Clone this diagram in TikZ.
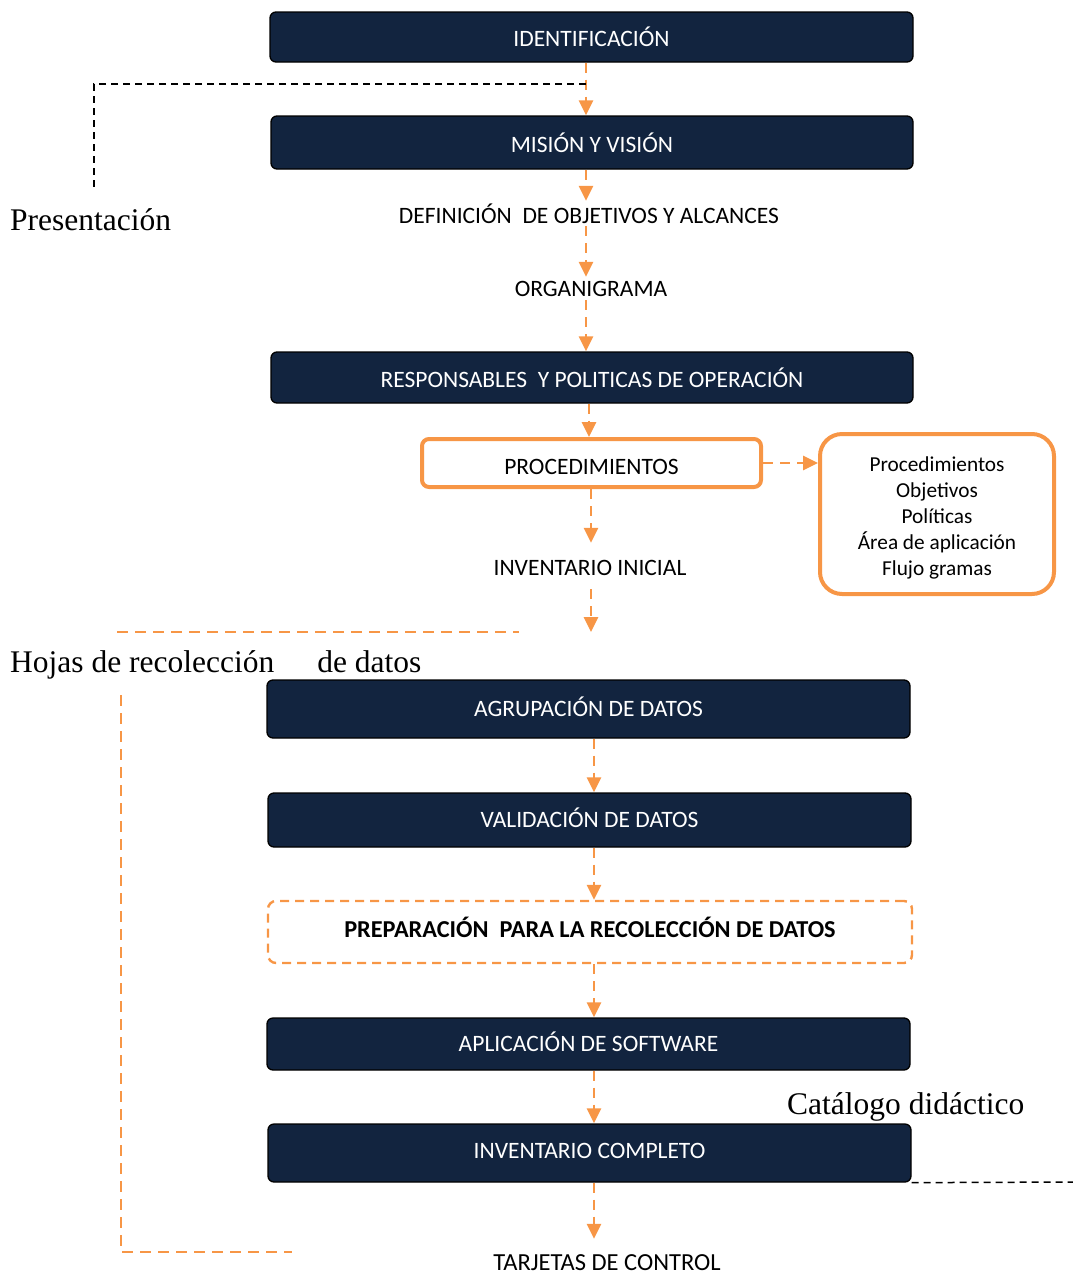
\documentclass[tikz,border=0pt]{standalone}
\usepackage{fontspec}
\setmainfont{Liberation Serif}
\newfontfamily\calib{Carlito}
\usetikzlibrary{arrows.meta,calc}
\definecolor{navy}{HTML}{12243F}
\definecolor{flow}{HTML}{F79646}
\begin{document}
\begin{tikzpicture}[x=1pt,y=-1pt,
  navybox/.style={draw=black, line width=1.3pt, fill=navy, rounded corners=6pt,
    text=white, font={\calib\fontsize{23.5}{28}\selectfont}, inner sep=0pt},
  lifted/.style={text depth=5pt},
  steplabel/.style={font={\calib\fontsize{23.5}{28}\selectfont}, text=black, inner sep=0pt},
  orangebox/.style={draw=flow, line width=4pt, fill=white, inner sep=0pt,
    font={\calib\fontsize{23.5}{28}\selectfont}},
  flowarrow/.style={draw=flow, line width=2.7pt, dash pattern=on 10pt off 7pt,
    -{Triangle[width=14pt,length=15pt,fill=flow]}},
  flowline/.style={draw=flow, line width=2.6pt, dash pattern=on 11pt off 7pt},
  blackline/.style={draw=black, line width=1.5pt, dash pattern=on 7pt off 5pt},
  note/.style={font={\fontsize{31.5}{36}\selectfont}, inner sep=0pt}]
\useasboundingbox (0,0) rectangle (1073,1275);

% columns used by the vertical connectors
\coordinate (colA) at (586,0);
\coordinate (colB) at (589,0);
\coordinate (colC) at (591,0);
\coordinate (colD) at (594,0);

% main sequence
\node[navybox, minimum width=643pt, minimum height=50pt] (id) at (591.5,37) {IDENTIFICACIÓN};
\node[navybox, minimum width=642pt, minimum height=53pt] (mv) at (592,142.5) {MISIÓN Y VISIÓN};
\node[steplabel, minimum height=25pt] (def) at (589,213.5) {DEFINICIÓN\ \ DE OBJETIVOS Y ALCANCES};
\node[steplabel, minimum height=23pt] (org) at (591,288.5) {ORGANIGRAMA};
\node[navybox, minimum width=642pt, minimum height=51pt] (resp) at (592,377.5) {RESPONSABLES\ \ Y POLITICAS DE OPERACIÓN};
\node[orangebox, rounded corners=7pt, minimum width=339pt, minimum height=48pt,
  text height=23pt, text depth=0pt] (proc) at (591.5,463) {PROCEDIMIENTOS};
\node[orangebox, rounded corners=22pt, minimum width=234pt, minimum height=160pt,
  font={\calib\fontsize{21.3}{26}\selectfont}] (info) at (937,514)
  {\begin{tabular}{@{}c@{}}\rule{0pt}{26.5pt}Procedimientos\\Objetivos\\Políticas\\Área de aplicación\\Flujo gramas\end{tabular}};
\node[steplabel, minimum height=46pt, text height=19pt, text depth=0pt] (ini) at (590,566) {INVENTARIO INICIAL};
\coordinate (iniend) at (591,632);

\node[navybox, lifted, minimum width=643pt, minimum height=58pt] (agr) at (588.5,709) {AGRUPACIÓN DE DATOS};
\node[navybox, lifted, minimum width=643pt, minimum height=54pt] (val) at (589.5,820) {VALIDACIÓN DE DATOS};
\node[draw=flow, line width=2.4pt, dash pattern=on 9pt off 6pt, rounded corners=8pt,
  minimum width=644pt, minimum height=62pt, inner sep=0pt, text depth=10pt,
  font={\calib\bfseries\fontsize{24.3}{28}\selectfont}] (prep) at (590,932)
  {PREPARACIÓN\ \ PARA LA RECOLECCIÓN DE DATOS};
\node[navybox, lifted, minimum width=643pt, minimum height=52pt] (apl) at (588.5,1044) {APLICACIÓN DE SOFTWARE};
\node[navybox, lifted, minimum width=643pt, minimum height=58pt] (inc) at (589.5,1153) {INVENTARIO COMPLETO};
\node[steplabel, minimum height=48pt, font={\calib\fontsize{24.5}{28}\selectfont}] (tar) at (607,1263) {TARJETAS DE CONTROL};

% connectors
\draw[flowarrow] (id.south -| colA) -- (mv.north -| colA);
\draw[flowarrow] (mv.south -| colA) -- (def.north -| colA);
\draw[flowarrow] (def.south -| colA) -- (org.north -| colA);
\draw[flowarrow] (org.south -| colA) -- (resp.north -| colA);
\draw[flowarrow] (resp.south -| colB) -- (proc.north -| colB);
\draw[flowarrow] (proc.south -| colC) -- (ini.north -| colC);
\draw[flowarrow] (proc.east) -- (info.west |- proc.east);
\draw[flowarrow] (ini.south -| colC) -- (iniend);
\draw[flowarrow] (agr.south -| colD) -- (val.north -| colD);
\draw[flowarrow] (val.south -| colD) -- (prep.north -| colD);
\draw[flowarrow] (prep.south -| colD) -- (apl.north -| colD);
\draw[flowarrow] (apl.south -| colD) -- (inc.north -| colD);
\draw[flowarrow] (inc.south -| colD) -- (tar.north -| colD);

% side annotations
\coordinate (presjoin) at (586,84);
\coordinate (presend) at (94,188);
\draw[blackline] (presjoin) -| (presend);
\node[note, anchor=base west] (pres) at (10,230) {Presentación};

\draw[flowline] (117,632) -- (519,632);
\node[note, anchor=base west] (hojas) at (10,672) {Hojas de recolección\hspace{43pt}de datos};
\draw[flowline] (121,695) -- (121,1252) -- (292,1252);

\node[note, anchor=base west] (cat) at (787,1114) {Catálogo didáctico};
\coordinate (catend) at (1073,1182);
\draw[blackline] (inc.south east) -- (catend);
\end{tikzpicture}
\end{document}
